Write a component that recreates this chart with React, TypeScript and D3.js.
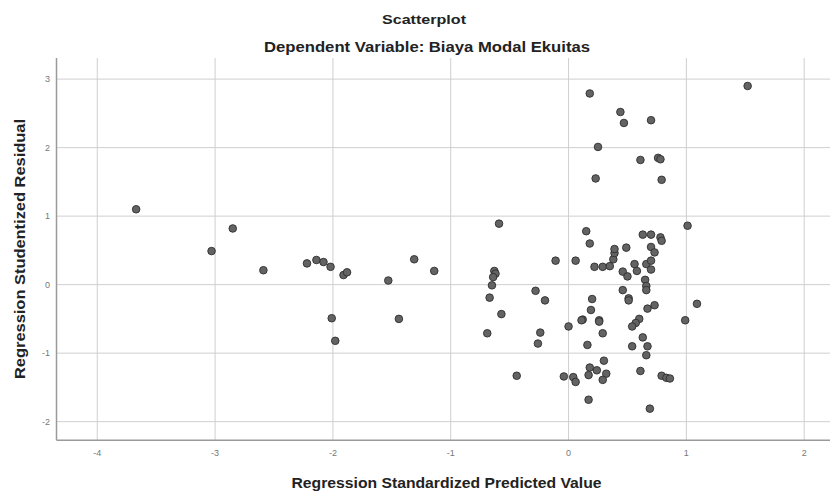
import React from 'react';
import * as d3 from 'd3';

// Regression Standardized Predicted Value
const predicted = [
  -3.67, -3.03, -2.85, -2.59, -2.22, -2.14, -2.08, -2.02, -1.91, -1.88,
  -1.53, -2.01, -1.98, -1.44, -1.31, -1.14, -0.59, -0.63, -0.62, -0.64,
  -0.65, -0.67, -0.69, -0.57, 0.15, 0.18, -0.11, 0.06, 0.22, 0.29,
  0.35, 0.38, 0.39, 0.39, 0.49, 0.63, 0.70, 0.78, 0.79, 0.70,
  0.73, 1.01, 0.46, 0.50, 0.56, 0.58, 0.66, 0.70, 0.70, 0.65,
  0.66, 0.66, 0.46, 0.51, 0.51, -0.28, -0.20, 0.20, 0.19, 0.67,
  0.73, 1.09, 0.12, 0.26, 0.60, 0.99, 0.18, 0.44, 0.47, 0.70,
  0.25, 0.61, 0.76, 0.78, 0.23, 0.79, 1.52, -0.24, -0.26, 0.00,
  0.11, 0.26, 0.29, 0.16, 0.57, 0.54, 0.63, 0.67, 0.54, 0.66,
  0.30, -0.44, -0.04, 0.04, 0.06, 0.18, 0.17, 0.24, 0.32, 0.29,
  0.61, 0.79, 0.83, 0.86, 0.17, 0.69,
];

// Regression Studentized Residual
const residual = [
  1.10, 0.49, 0.82, 0.21, 0.31, 0.36, 0.33, 0.26, 0.14, 0.18,
  0.06, -0.49, -0.82, -0.50, 0.37, 0.20, 0.89, 0.20, 0.16, 0.11,
  -0.01, -0.19, -0.71, -0.43, 0.78, 0.60, 0.35, 0.35, 0.26, 0.26,
  0.27, 0.37, 0.46, 0.52, 0.54, 0.73, 0.73, 0.69, 0.64, 0.55,
  0.47, 0.86, 0.19, 0.12, 0.30, 0.20, 0.30, 0.35, 0.22, 0.07,
  -0.02, -0.08, -0.08, -0.20, -0.23, -0.09, -0.23, -0.21, -0.37, -0.35,
  -0.30, -0.28, -0.51, -0.52, -0.50, -0.52, 2.79, 2.52, 2.36, 2.40,
  2.01, 1.82, 1.85, 1.83, 1.55, 1.53, 2.90, -0.70, -0.86, -0.61,
  -0.52, -0.54, -0.71, -0.88, -0.56, -0.61, -0.77, -0.90, -0.90, -1.03,
  -1.11, -1.33, -1.34, -1.35, -1.42, -1.21, -1.32, -1.25, -1.30, -1.39,
  -1.26, -1.33, -1.36, -1.37, -1.68, -1.81,
];

const xTicks = [-4, -3, -2, -1, 0, 1, 2];
const yTicks = [-2, -1, 0, 1, 2, 3];

const W = 830;
const H = 491;
const left = 56.5;
const bottom = 440.3;
const top = 58;
const right = 830;

const font = '"Liberation Sans", Arial, sans-serif';

export default function App() {
  const x = d3.scaleLinear().domain([-4.346, 2.219]).range([left, right]);
  const y = d3.scaleLinear().domain([-2.272, 3.308]).range([bottom, top]);
  const pts = predicted.map((p, i) => ({ p, r: residual[i] }));

  return (
    <svg width={W} height={H} style={{ position: 'absolute', left: 0, top: 0, background: '#fff' }}>
      <text x={424} y={24} textAnchor="middle" fontFamily={font} fontWeight="bold" fontSize={13}
        textLength={84} lengthAdjust="spacingAndGlyphs" fill="#222">
        Scatterplot
      </text>
      <text x={427} y={52} textAnchor="middle" fontFamily={font} fontWeight="bold" fontSize={14}
        textLength={326} lengthAdjust="spacingAndGlyphs" fill="#222">
        Dependent Variable: Biaya Modal Ekuitas
      </text>

      {/* grid */}
      {xTicks.map(t => (
        <line key={'gx' + t} x1={x(t)} x2={x(t)} y1={top} y2={bottom} stroke="#cfcfcf" strokeWidth={1} />
      ))}
      {yTicks.map(t => (
        <line key={'gy' + t} x1={left} x2={right} y1={y(t)} y2={y(t)} stroke="#cfcfcf" strokeWidth={1} />
      ))}

      {/* axes */}
      <line x1={left} x2={left} y1={top} y2={bottom} stroke="#9a9a9a" strokeWidth={1.5} />
      <line x1={left} x2={right} y1={bottom} y2={bottom} stroke="#9a9a9a" strokeWidth={1.5} />

      {xTicks.map(t => (
        <text key={'tx' + t} x={x(t)} y={456} textAnchor="middle" fontFamily={font} fontSize={9} fill="#777">
          {t}
        </text>
      ))}
      {yTicks.map(t => (
        <text key={'ty' + t} x={50} y={y(t) + 3} textAnchor="end" fontFamily={font} fontSize={9} fill="#777">
          {t}
        </text>
      ))}

      {pts.map((d, i) => (
        <circle key={i} cx={x(d.p)} cy={y(d.r)} r={3.8} fill="#636363" stroke="#2e2e2e" strokeWidth={0.9} />
      ))}

      <text x={446.5} y={488} textAnchor="middle" fontFamily={font} fontWeight="bold" fontSize={15}
        textLength={310} lengthAdjust="spacingAndGlyphs" fill="#222">
        Regression Standardized Predicted Value
      </text>
      <text
        transform={`translate(25,249) rotate(-90)`}
        textAnchor="middle"
        fontFamily={font}
        fontWeight="bold"
        fontSize={15}
        textLength={260}
        lengthAdjust="spacingAndGlyphs"
        fill="#222"
      >
        Regression Studentized Residual
      </text>
    </svg>
  );
}
